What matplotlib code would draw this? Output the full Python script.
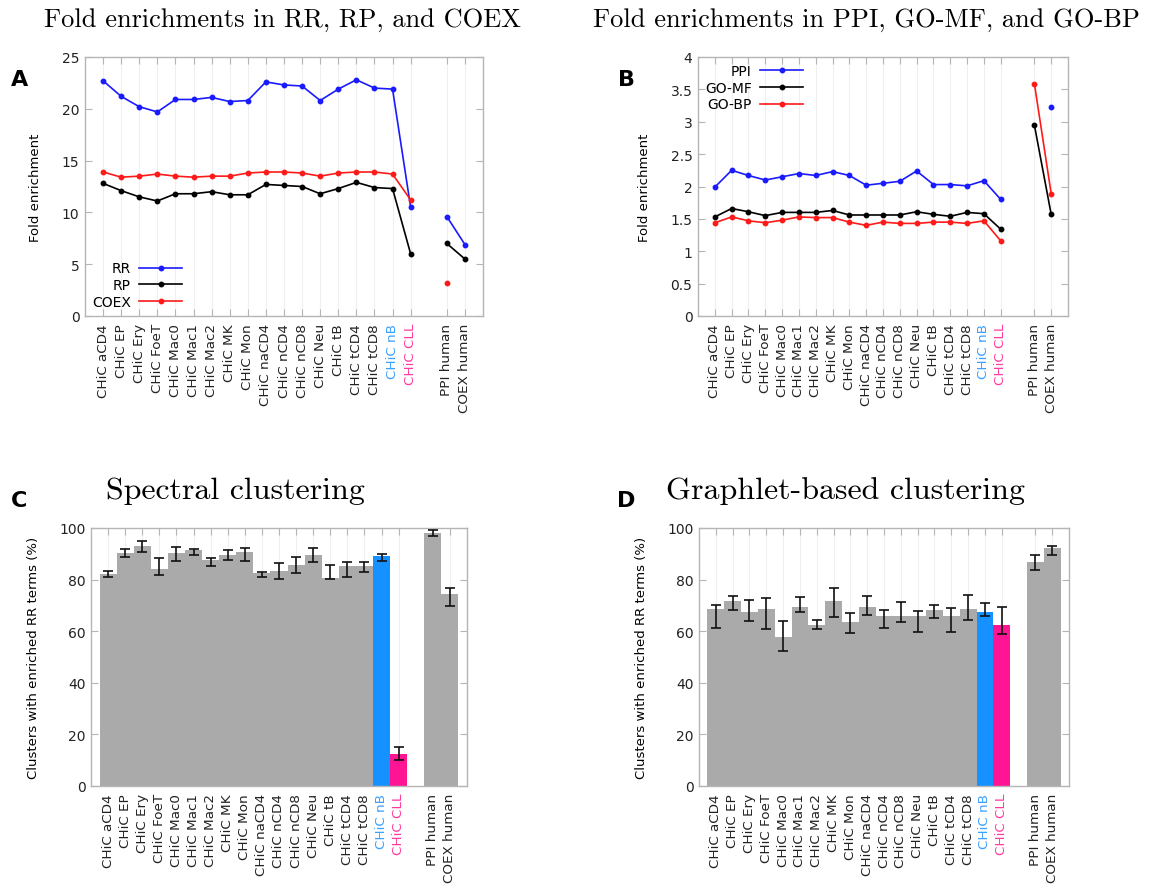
import numpy as np
import matplotlib
matplotlib.use('Agg')
import matplotlib.pyplot as plt
from matplotlib.ticker import FuncFormatter

# categories
chic = ['CHiC aCD4', 'CHiC EP', 'CHiC Ery', 'CHiC FoeT', 'CHiC Mac0', 'CHiC Mac1',
        'CHiC Mac2', 'CHiC MK', 'CHiC Mon', 'CHiC naCD4', 'CHiC nCD4', 'CHiC nCD8',
        'CHiC Neu', 'CHiC tB', 'CHiC tCD4', 'CHiC tCD8', 'CHiC nB', 'CHiC CLL']
others = ['PPI human', 'COEX human']
labels = chic + others
nan = np.nan

# panel A: fold enrichments (18 CHiC + PPI human + COEX human)
rr = [22.7, 21.2, 20.2, 19.7, 20.9, 20.9, 21.1, 20.7, 20.8, 22.6, 22.3, 22.2,
      20.8, 21.9, 22.8, 22.0, 21.9, 10.5, 9.6, 6.9]
rp = [12.8, 12.1, 11.5, 11.1, 11.8, 11.8, 12.0, 11.7, 11.7, 12.7, 12.6, 12.5,
      11.8, 12.3, 12.9, 12.4, 12.3, 6.0, 7.0, 5.5]
coex = [13.9, 13.4, 13.5, 13.7, 13.5, 13.4, 13.5, 13.5, 13.8, 13.9, 13.9, 13.8,
        13.5, 13.8, 13.9, 13.9, 13.7, 11.2, 3.2, nan]

# panel B
ppi = [1.99, 2.25, 2.17, 2.10, 2.15, 2.20, 2.17, 2.23, 2.17, 2.02, 2.05, 2.08,
       2.24, 2.03, 2.03, 2.01, 2.09, 1.80, nan, 3.23]
gomf = [1.53, 1.66, 1.61, 1.55, 1.60, 1.60, 1.60, 1.63, 1.56, 1.56, 1.56, 1.56,
        1.61, 1.57, 1.54, 1.60, 1.58, 1.34, 2.95, 1.57]
gobp = [1.44, 1.53, 1.47, 1.44, 1.48, 1.53, 1.52, 1.52, 1.45, 1.40, 1.45, 1.43,
        1.43, 1.45, 1.45, 1.43, 1.47, 1.16, 3.59, 1.89]

# panel C: spectral clustering (%), bar height and error bar ends
spec = [82.3, 90.5, 92.9, 84.3, 90.2, 91.3, 87.5, 89.4, 90.6, 82.5, 83.4, 85.8,
        89.5, 80.8, 85.2, 85.2, 89.1, 12.4, 98.0, 74.3]
spec_lo = [80.9, 88.6, 90.6, 81.9, 87.1, 89.7, 85.4, 87.6, 87.3, 80.9, 80.2, 82.5,
           86.7, 80.3, 81.2, 82.8, 87.4, 10.2, 97.0, 69.8]
spec_hi = [83.3, 91.9, 95.1, 88.2, 92.8, 91.9, 88.3, 91.5, 92.1, 83.1, 86.3, 88.6,
           92.2, 85.7, 87.0, 86.7, 89.9, 15.0, 99.2, 76.6]

# panel D: graphlet-based clustering (%)
graph = [68.6, 71.8, 67.3, 68.6, 57.6, 69.3, 62.5, 71.8, 63.4, 69.5, 65.7, 65.7,
         65.7, 68.3, 65.7, 68.6, 67.3, 62.4, 86.8, 92.1]
graph_lo = [61.3, 68.4, 64.1, 60.9, 52.5, 67.3, 60.9, 65.6, 59.3, 66.4, 61.3, 63.7,
            59.5, 65.0, 59.5, 64.3, 65.7, 58.9, 83.7, 89.7]
graph_hi = [70.3, 73.8, 72.1, 72.8, 64.1, 73.1, 64.3, 76.6, 67.1, 73.8, 68.4, 71.4,
            67.7, 70.3, 69.0, 74.0, 70.9, 69.2, 89.4, 93.2]

x = np.r_[np.arange(len(chic)), len(chic) + 1, len(chic) + 2]
n = len(chic)

GRAY = '#aaaaaa'
NB_BAR, CLL_BAR = '#1592ff', '#ff1493'
NB_TXT, CLL_TXT = '#3aa0ff', '#ff3ca0'
SPINE = '#b5b5b5'
SERIF = 'cmr10'

fig = plt.figure(figsize=(11.49, 8.87), dpi=100)
axA = fig.add_axes([85 / 1149, 1 - 317 / 887, 398 / 1149, 259 / 887])
axB = fig.add_axes([698 / 1149, 1 - 317 / 887, 370 / 1149, 259 / 887])
axC = fig.add_axes([91 / 1149, 1 - 787 / 887, 376 / 1149, 258 / 887])
axD = fig.add_axes([699 / 1149, 1 - 787 / 887, 370 / 1149, 258 / 887])


def style(ax, ymax, ystep):
    ax.set_xlim(-1, x[-1] + 1)
    ax.set_ylim(0, ymax)
    ax.set_yticks(np.arange(0, ymax + ystep / 2, ystep))
    ax.yaxis.set_major_formatter(FuncFormatter(lambda v, p: '%g' % v))
    ax.tick_params(direction='in', top=True, right=True, length=5, width=0.8,
                   color=SPINE, labelsize=10, labelcolor='#222222', pad=4)
    ax.tick_params(axis='x', labelsize=9.5, pad=5)
    ax.set_xticks(x)
    ax.set_xticklabels(labels, rotation=90, fontsize=9.7)
    # highlighted cell types get coloured labels
    for t in ax.get_xticklabels():
        if t.get_text() == 'CHiC nB':
            t.set_color(NB_TXT)
        elif t.get_text() == 'CHiC CLL':
            t.set_color(CLL_TXT)
        else:
            t.set_color('#222222')
    for s in ax.spines.values():
        s.set_color(SPINE)
        s.set_linewidth(1.0)
    ax.grid(axis='x', color='#efefef', linewidth=0.8)
    ax.set_axisbelow(True)


def lines(ax, series, colors, names):
    for ys, c, nm in zip(series, colors, names):
        ys = np.asarray(ys, dtype=float)
        ax.plot(x[:n], ys[:n], color=c, lw=1.2, marker='o', ms=3.2, label=nm)
        ax.plot(x[n:], ys[n:], color=c, lw=1.2, marker='o', ms=3.2)


# A
style(axA, 25, 5)
lines(axA, [rr, rp, coex], ['#1a1aff', 'black', '#ff1a1a'], ['RR', 'RP', 'COEX'])
axA.set_ylabel('Fold enrichment', fontsize=9.5, labelpad=14)
axA.legend(loc='lower left', markerfirst=False, frameon=False, fontsize=10,
           handlelength=3.1, handletextpad=0.6, labelspacing=0.2,
           borderaxespad=0.3, borderpad=0.2)

# B
style(axB, 4, 0.5)
lines(axB, [ppi, gomf, gobp], ['#1a1aff', 'black', '#ff1a1a'], ['PPI', 'GO-MF', 'GO-BP'])
axB.set_ylabel('Fold enrichment', fontsize=9.5, labelpad=14)
axB.legend(loc='upper left', markerfirst=False, frameon=False, fontsize=10,
           handlelength=3.1, handletextpad=0.6, labelspacing=0.2,
           borderaxespad=0.3, borderpad=0.2)


def bars(ax, vals, lo, hi):
    vals, lo, hi = map(np.asarray, (vals, lo, hi))
    cols = [GRAY] * len(vals)
    cols[n - 2] = NB_BAR
    cols[n - 1] = CLL_BAR
    ax.bar(x, vals, width=1.0, color=cols, zorder=2)
    mid = (lo + hi) / 2
    ax.errorbar(x, mid, yerr=(hi - lo) / 2, fmt='none', ecolor='#111111',
                elinewidth=1.2, capsize=3.5, capthick=1.2, zorder=3)


style(axC, 100, 20)
bars(axC, spec, spec_lo, spec_hi)
axC.set_ylabel('Clusters with enriched RR terms (%)', fontsize=9.5, labelpad=14)

style(axD, 100, 20)
bars(axD, graph, graph_lo, graph_hi)
axD.set_ylabel('Clusters with enriched RR terms (%)', fontsize=9.5, labelpad=14)

# titles and panel letters
fig.text(282 / 1149, 1 - 20 / 887, 'Fold enrichments in RR, RP, and COEX',
         family=SERIF, fontsize=19, ha='center', va='center')
fig.text(866 / 1149, 1 - 20 / 887, 'Fold enrichments in PPI, GO-MF, and GO-BP',
         family=SERIF, fontsize=19, ha='center', va='center')
fig.text(235 / 1149, 1 - 491 / 887, 'Spectral clustering',
         family=SERIF, fontsize=23, ha='center', va='center')
fig.text(845 / 1149, 1 - 491 / 887, 'Graphlet-based clustering',
         family=SERIF, fontsize=23, ha='center', va='center')
for lt, px, py in [('A', 20, 80), ('B', 627, 80), ('C', 19, 501), ('D', 626, 501)]:
    fig.text(px / 1149, 1 - py / 887, lt, fontsize=16, fontweight='bold',
             ha='center', va='center')

fig.savefig('out.png', dpi=100)
